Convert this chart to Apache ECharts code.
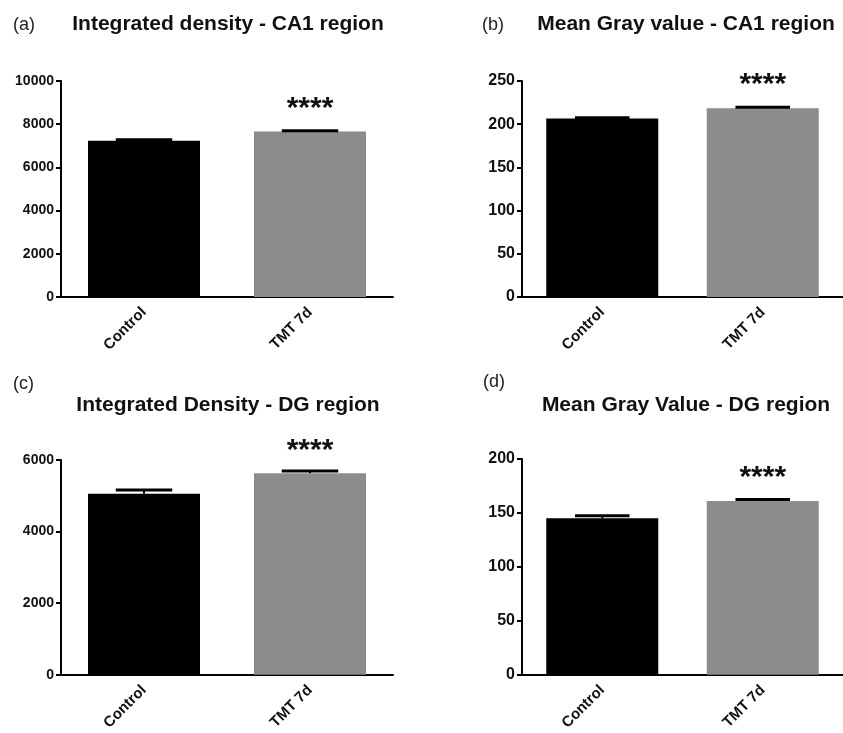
<!DOCTYPE html>
<html>
<head>
<meta charset="utf-8">
<script src="https://cdn.jsdelivr.net/npm/echarts@6/dist/echarts.min.js"></script>
<style>
  html, body { margin: 0; padding: 0; background: #fff; }
  #chart { width: 843px; height: 733px; }
</style>
</head>
<body>
<div id="chart"></div>
<script>
// values
const categories = ['Control', 'TMT 7d'];

const caDensity = [7230, 7660];
const caDensityErr = [50, 40];
const caGray = [206.5, 218.5];
const caGrayErr = [1, 1];
const dgDensity = [5060, 5630];
const dgDensityErr = [100, 60];
const dgGray = [145, 161];
const dgGrayErr = [2.5, 1.5];

const sigLabels = ['', '****'];
const barColors = ['#000000', '#8c8c8c'];

const panels = [
  { tag: '(a)', title: 'Integrated density - CA1 region', values: caDensity, errs: caDensityErr, max: 10000, step: 2000, tickFont: 14 },
  { tag: '(b)', title: 'Mean Gray value - CA1 region', values: caGray, errs: caGrayErr, max: 250, step: 50, tickFont: 16 },
  { tag: '(c)', title: 'Integrated Density - DG region', values: dgDensity, errs: dgDensityErr, max: 6000, step: 2000, tickFont: 14 },
  { tag: '(d)', title: 'Mean Gray Value - DG region', values: dgGray, errs: dgGrayErr, max: 200, step: 50, tickFont: 16 }
];

const FONT = 'Liberation Sans, Arial, sans-serif';

const gridBoxes = [
  { left: 61, top: 81, width: 332, height: 216 },
  { left: 522, top: 81, width: 332, height: 216 },
  { left: 61, top: 460, width: 332, height: 216 },
  { left: 522, top: 459, width: 332, height: 217 }
];
const titlePos = [
  { tagX: 13, tagY: 16, titleX: 228, titleY: 14 },
  { tagX: 482, tagY: 16, titleX: 686, titleY: 14 },
  { tagX: 13, tagY: 375, titleX: 228, titleY: 395 },
  { tagX: 483, tagY: 373, titleX: 686, titleY: 395 }
];

function errorBarRender(errs) {
  return function (params, api) {
    const i = api.value(0);
    const v = api.value(1);
    const base = api.coord([i, v]);
    const top = api.coord([i, v + errs[i]]);
    const half = api.size([1, 0])[0] * 0.17;
    return {
      type: 'group',
      children: [
        { type: 'line', shape: { x1: base[0], y1: base[1], x2: top[0], y2: top[1] }, style: { stroke: '#000', lineWidth: 2 } },
        { type: 'line', shape: { x1: top[0] - half, y1: top[1], x2: top[0] + half, y2: top[1] }, style: { stroke: '#000', lineWidth: 3 } }
      ]
    };
  };
}

const grid = [], xAxis = [], yAxis = [], series = [], title = [];

panels.forEach(function (p, k) {
  grid.push(gridBoxes[k]);
  title.push({
    text: p.tag, left: titlePos[k].tagX, top: titlePos[k].tagY, padding: 0,
    textStyle: { fontFamily: FONT, fontSize: 18, fontWeight: 'normal', color: '#222' }
  });
  title.push({
    text: p.title, left: titlePos[k].titleX, top: titlePos[k].titleY, padding: 0, textAlign: 'center',
    textStyle: { fontFamily: FONT, fontSize: 21, fontWeight: 'bold', color: '#111' }
  });
  xAxis.push({
    type: 'category', gridIndex: k, data: categories,
    axisLine: { lineStyle: { color: '#000', width: 2 } },
    axisTick: { alignWithLabel: true, length: 7, lineStyle: { color: '#000', width: 2 } },
    axisLabel: { rotate: 45, margin: 13, fontFamily: FONT, fontSize: 15, fontWeight: 'bold', color: '#111' }
  });
  yAxis.push({
    type: 'value', gridIndex: k, min: 0, max: p.max, interval: p.step,
    splitLine: { show: false },
    axisLine: { show: true, lineStyle: { color: '#000', width: 2 } },
    axisTick: { show: true, length: 5, lineStyle: { color: '#000', width: 2 } },
    axisLabel: {
      margin: 7, fontFamily: FONT, fontSize: p.tickFont, fontWeight: 'bold', color: '#111',
      formatter: function (v) { return String(v); }
    }
  });
  series.push({
    type: 'bar', xAxisIndex: k, yAxisIndex: k, barWidth: 112, silent: true,
    data: p.values.map(function (v, i) {
      return {
        value: v,
        itemStyle: { color: barColors[i] },
        label: {
          show: sigLabels[i] !== '', formatter: sigLabels[i], position: 'top', distance: 8,
          fontFamily: FONT, fontSize: 30, fontWeight: 'bold', color: '#111'
        }
      };
    })
  });
  series.push({
    type: 'custom', xAxisIndex: k, yAxisIndex: k, silent: true, z: 5,
    renderItem: errorBarRender(p.errs),
    encode: { x: 0, y: 1 },
    data: p.values.map(function (v, i) { return [i, v]; })
  });
});

const chart = echarts.init(document.getElementById('chart'));
chart.setOption({
  backgroundColor: '#fff',
  animation: false,
  title: title,
  grid: grid,
  xAxis: xAxis,
  yAxis: yAxis,
  series: series
});
</script>
</body>
</html>
